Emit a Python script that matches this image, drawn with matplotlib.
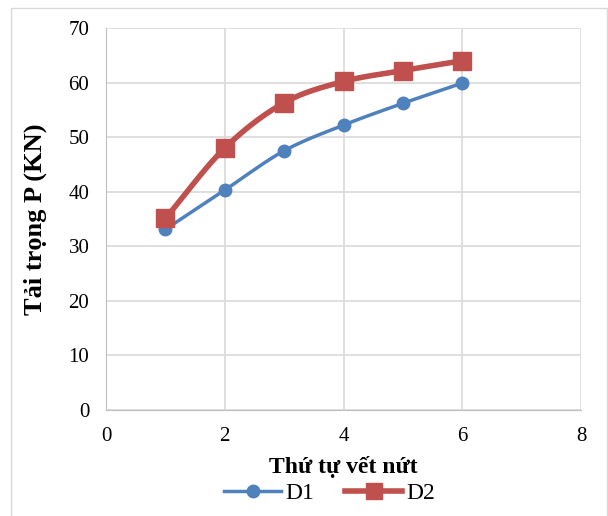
import numpy as np
import matplotlib.pyplot as plt
from matplotlib.patches import Rectangle

x = [1, 2, 3, 4, 5, 6]
d1 = [33.1, 40.3, 47.5, 52.2, 56.2, 59.9]
d2 = [35.1, 48.0, 56.3, 60.2, 62.2, 64.0]


def smooth(xs, ys, n=30):
    # Catmull-Rom curve through the points (like Excel's smoothed line)
    xs = np.asarray(xs, float)
    ys = np.asarray(ys, float)
    px = np.concatenate([[2 * xs[0] - xs[1]], xs, [2 * xs[-1] - xs[-2]]])
    py = np.concatenate([[2 * ys[0] - ys[1]], ys, [2 * ys[-1] - ys[-2]]])
    out_x, out_y = [], []
    t = np.linspace(0, 1, n)
    for i in range(1, len(px) - 2):
        for p, out in ((px, out_x), (py, out_y)):
            p0, p1, p2, p3 = p[i - 1], p[i], p[i + 1], p[i + 2]
            out.extend(0.5 * ((2 * p1) + (-p0 + p2) * t
                              + (2 * p0 - 5 * p1 + 4 * p2 - p3) * t ** 2
                              + (-p0 + 3 * p1 - 3 * p2 + p3) * t ** 3))
    return out_x, out_y


plt.rcParams['font.family'] = ['Liberation Serif', 'DejaVu Serif']

fig = plt.figure(figsize=(6.08, 5.16), dpi=100)
fig.patches.append(Rectangle((11 / 608, -5 / 516), 596 / 608, 513 / 516,
                             transform=fig.transFigure, fill=False,
                             edgecolor='#d9d9d9', lw=1))
ax = fig.add_axes([106 / 608, 1 - 410 / 516, 475 / 608, 382 / 516])

blue = '#4f81bd'
red = '#c0504d'

sx, sy = smooth(x, d1)
ax.plot(sx, sy, color=blue, lw=2.5, zorder=3)
ax.plot(x, d1, 'o', color=blue, ms=9, zorder=4)
sx, sy = smooth(x, d2)
ax.plot(sx, sy, color=red, lw=4, zorder=3)
ax.plot(x, d2, 's', color=red, ms=13, zorder=4)

ax.set_xlim(0, 8)
ax.set_ylim(0, 70)
ax.set_xticks(range(0, 9, 2))
ax.set_yticks(range(0, 71, 10))
ax.grid(True, color='#d9d9d9', lw=1.2)
ax.set_axisbelow(True)
for s in ['top', 'right']:
    ax.spines[s].set_visible(False)
for s in ['left', 'bottom']:
    ax.spines[s].set_color('#bfbfbf')
ax.tick_params(length=0, labelsize=15)
ax.tick_params(axis='y', pad=12)
ax.tick_params(axis='x', pad=12)

ax.set_xlabel('Thứ tự vết nứt', fontsize=17, fontweight='bold')
ax.xaxis.set_label_coords(0.5, -(467 - 410) / 382, transform=ax.transAxes)
ax.set_ylabel('Tải trọng P (KN)', fontsize=19, fontweight='bold')
ax.yaxis.set_label_coords(-(106 - 35) / 475, 0.5, transform=ax.transAxes)
ax.xaxis.label.set_va('center')
ax.yaxis.label.set_va('center')

h1, = ax.plot([], [], color=blue, lw=2.5, marker='o', ms=9)
h2, = ax.plot([], [], color=red, lw=4, marker='s', ms=11)
fig.legend([h1, h2], ['D1', 'D2'], loc='center', ncol=2, frameon=False,
           bbox_to_anchor=(330 / 608, 1 - 493 / 516), fontsize=17,
           handlelength=2.4, columnspacing=1.3, handletextpad=0.2)

fig.savefig('out.png', dpi=100)
